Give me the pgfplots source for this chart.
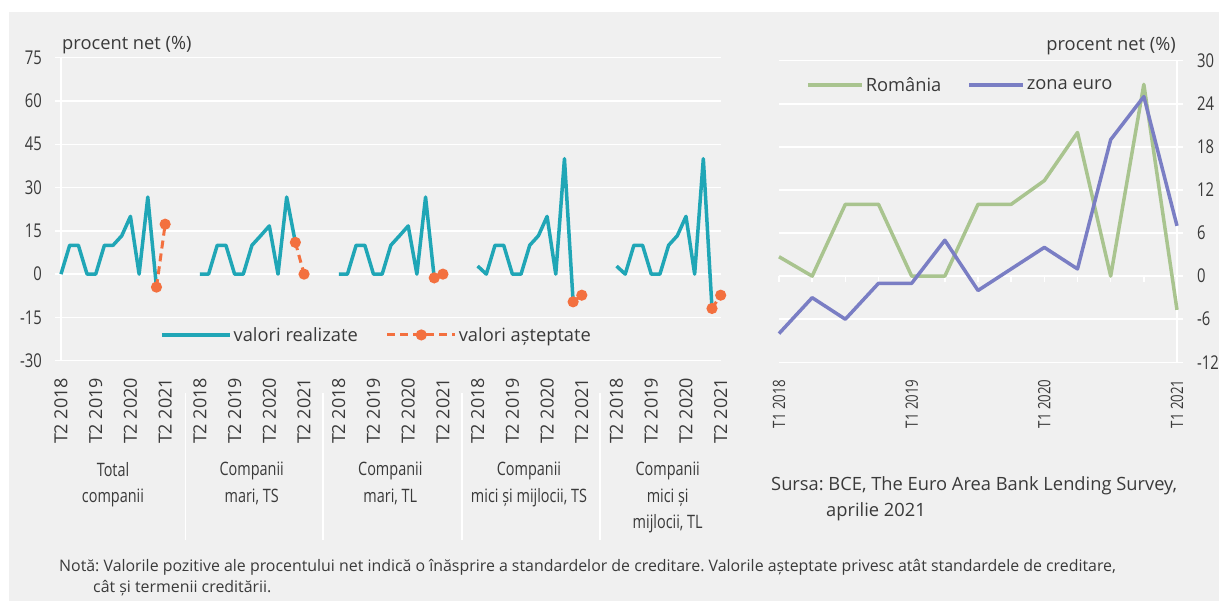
\documentclass[border=0pt]{standalone}
\usepackage{pgfplots}
\pgfplotsset{compat=1.18}
\usepackage{pgfplotstable}
\usepackage{fontspec}
\setmainfont{Open Sans}
\newfontfamily\cond[FakeStretch=0.78]{Open Sans}
\frenchspacing
\definecolor{bg}{HTML}{F0F0F0}
\definecolor{txt}{HTML}{3A3A3A}
\definecolor{cteal}{HTML}{20A6B6}
\definecolor{corange}{HTML}{F3703F}
\definecolor{cgreen}{HTML}{A9C48F}
\definecolor{cblue}{HTML}{7A7EC4}

\pgfplotsset{
  realstyle/.style={cteal, line width=3.5pt, line join=round},
  expstyle/.style={corange, line width=3pt, dash pattern=on 8pt off 5pt, mark=*, mark size=4pt, mark options={solid}},
  longline/.style={legend image code/.code={\draw[##1] (0pt,0pt) -- (68pt,0pt);}},
  longmark/.style={legend image code/.code={\draw[mark repeat=2, mark phase=2, ##1] plot coordinates {(0pt,0pt) (34pt,0pt) (68pt,0pt)};}},
  shortline/.style={legend image code/.code={\draw[##1] (0pt,0pt) -- (54pt,0pt);}},
}

% realized values, x = 16*group + quarter index (T2 2018 = 0)
\pgfplotstableread{
x y
0 0
1 10
2 10
3 0
4 0
5 10
6 10
7 13.3
8 20
9 0
10 26.7
11 -4.5
}\realA
\pgfplotstableread{
x y
16 0
17 0
18 10
19 10
20 0
21 0
22 10
23 13.3
24 16.7
25 0
26 26.7
27 11
}\realB
\pgfplotstableread{
x y
32 0
33 0
34 10
35 10
36 0
37 0
38 10
39 13.3
40 16.7
41 0
42 26.7
43 -1.3
}\realC
\pgfplotstableread{
x y
48 2.8
49 0
50 10
51 10
52 0
53 0
54 10
55 13.3
56 20
57 0
58 40
59 -9.6
}\realD
\pgfplotstableread{
x y
64 2.8
65 0
66 10
67 10
68 0
69 0
70 10
71 13.3
72 20
73 0
74 40
75 -11.9
}\realE
\pgfplotstableread{
x y
11 -4.5
12 17.3
}\expA
\pgfplotstableread{
x y
27 11
28 0
}\expB
\pgfplotstableread{
x y
43 -1.3
44 0
}\expC
\pgfplotstableread{
x y
59 -9.6
60 -7.3
}\expD
\pgfplotstableread{
x y
75 -11.9
76 -7.3
}\expE
% right panel: T1 2018 = 0 ... T1 2021 = 12
\pgfplotstableread{
x ro eu
0 2.7 -8
1 0 -3
2 10 -6
3 10 -1
4 0 -1
5 0 5
6 10 -2
7 10 1
8 13.3 4
9 20 1
10 0 19
11 26.7 25
12 -4.7 7
}\rightdata

\begin{document}
\begin{tikzpicture}[x=1pt,y=-1pt,font=\fontsize{18.3}{21}\selectfont,text=txt]
\useasboundingbox (0,0) rectangle (1219,601);
\fill[bg] (9,12) rectangle (1219,601);

\begin{axis}[
  at={(61pt,-360.7pt)}, anchor=south west, scale only axis,
  width=659.7pt, height=303pt,
  xmin=0, xmax=76, ymin=-30, ymax=75,
  axis x line*=bottom, axis y line*=left,
  axis line style={white, line width=1.5pt},
  ytick={-30,-15,...,75},
  yticklabels={-30,-15,0,15,30,45,60,75},
  ymajorgrids, grid style={white, line width=1.5pt},
  xtick={0,4,...,76},
  xticklabels={T2 2018,T2 2019,T2 2020,T2 2021,T2 2018,T2 2019,T2 2020,T2 2021,T2 2018,T2 2019,T2 2020,T2 2021,T2 2018,T2 2019,T2 2020,T2 2021,T2 2018,T2 2019,T2 2020,T2 2021},
  x tick style={draw=none},
  y tick style={white, line width=1.5pt},
  tick align=outside, major tick length=6pt,
  xticklabel style={rotate=90, anchor=east, inner sep=0pt, font=\fontsize{18}{18}\selectfont, text=txt},
  xticklabel shift=11pt,
  yticklabel style={inner sep=0pt, font=\cond\fontsize{19}{19}\selectfont, text=txt},
  yticklabel shift=13pt,
  clip=false,
  legend columns=2,
  legend style={at={(0.15,0.085)}, anchor=west, draw=none, fill=none, inner sep=0pt,
    font=\fontsize{18.3}{21}\selectfont, text=txt,
    /tikz/every even column/.append style={column sep=26pt}},
  legend cell align=left,
]
\addplot[realstyle, forget plot] table {\realB};
\addplot[realstyle, forget plot] table {\realC};
\addplot[realstyle, forget plot] table {\realD};
\addplot[realstyle, forget plot] table {\realE};
\addplot[expstyle, forget plot] table {\expB};
\addplot[expstyle, forget plot] table {\expC};
\addplot[expstyle, forget plot] table {\expD};
\addplot[expstyle, forget plot] table {\expE};
\addplot[realstyle, longline] table {\realA};
\addlegendentry{valori realizate}
\addplot[expstyle, longmark] table {\expA};
\addlegendentry{valori așteptate}
\end{axis}

\begin{axis}[
  at={(779pt,-362.3pt)}, anchor=south west, scale only axis,
  width=398pt, height=301.6pt,
  xmin=0, xmax=12, ymin=-12, ymax=30,
  axis x line*=bottom, axis y line*=right,
  axis line style={white, line width=1.5pt},
  ytick={-12,-6,...,30},
  yticklabels={-12,-6,0,6,12,18,24,30},
  ymajorgrids, grid style={white, line width=1.5pt},
  xtick={0,4,8,12},
  xticklabels={T1 2018,T1 2019,T1 2020,T1 2021},
  x tick style={draw=none},
  y tick style={white, line width=1.5pt},
  tick align=outside, major tick length=6pt,
  xticklabel style={rotate=90, anchor=east, inner sep=0pt, font=\cond\fontsize{17}{17}\selectfont, text=txt},
  xticklabel shift=11pt,
  yticklabel style={inner sep=0pt, font=\cond\fontsize{19}{19}\selectfont, text=txt},
  yticklabel shift=14pt,
  clip=false,
  legend columns=2,
  legend style={at={(0.068,0.919)}, anchor=west, draw=none, fill=none, inner sep=0pt,
    font=\fontsize{18.3}{21}\selectfont, text=txt,
    /tikz/every even column/.append style={column sep=24pt}},
  legend cell align=left,
  shortline,
]
\pgfplotsinvokeforeach{0,...,12}{\draw[white, line width=1.5pt] (axis cs:#1,0) -- ++(0pt,-6pt);}
\addplot[cgreen, line width=3.5pt, line join=round] table[x=x, y=ro] {\rightdata};
\addlegendentry{România}
\addplot[cblue, line width=3.5pt, line join=round] table[x=x, y=eu] {\rightdata};
\addlegendentry{zona euro}
\end{axis}

% titles
\node[anchor=base west, inner sep=0pt] at (62,50) {procent net (\%)};
\node[anchor=base east, inner sep=0pt] at (1176,51) {procent net (\%)};

% group separators
\foreach \xx in {185.5,323,462,600} \draw[white, line width=1.5pt] (\xx,393) -- (\xx,540);

% group labels
\begin{scope}[every node/.style={align=center, anchor=north, inner sep=0pt, font=\cond\fontsize{18.5}{26.5}\selectfont, text=txt}]
\node at (113,462) {Total\\companii};
\node at (251.7,462) {Companii\\mari, TS};
\node at (390.3,462) {Companii\\mari, TL};
\node at (529,462) {Companii\\mici și mijlocii, TS};
\node at (667.7,462) {Companii\\mici și\\mijlocii, TL};
\end{scope}

% source
\node[anchor=base west, inner sep=0pt] at (771,491) {Sursa: BCE, The Euro Area Bank Lending Survey,};
\node[anchor=base west, inner sep=0pt] at (826,516) {aprilie 2021};

% note
\node[anchor=base west, inner sep=0pt, font=\fontsize{15.9}{18}\selectfont] at (59,571) {Notă: Valorile pozitive ale procentului net indică o înăsprire a standardelor de creditare. Valorile așteptate privesc atât standardele de creditare,};
\node[anchor=base west, inner sep=0pt, font=\fontsize{15.9}{18}\selectfont] at (93,592) {cât și termenii creditării.};
\end{tikzpicture}
\end{document}
